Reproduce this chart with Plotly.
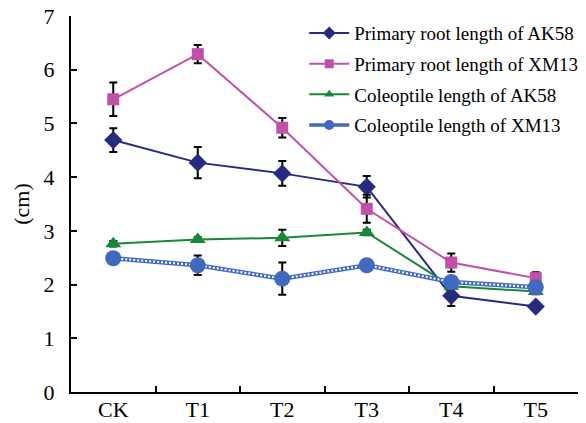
import plotly.graph_objects as go

# Treatments
categories = ["CK", "T1", "T2", "T3", "T4", "T5"]

# Lengths (cm) and standard errors
root_ak58 = [4.69, 4.27, 4.07, 3.82, 1.79, 1.59]
root_ak58_err = [0.22, 0.29, 0.23, 0.20, 0.19, 0.04]

root_xm13 = [5.45, 6.29, 4.92, 3.41, 2.41, 2.12]
root_xm13_err = [0.31, 0.17, 0.18, 0.26, 0.17, 0.11]

cole_ak58 = [2.76, 2.84, 2.87, 2.97, 1.97, 1.87]
cole_ak58_err = [0.05, 0.04, 0.15, 0.05, 0.05, 0.05]

cole_xm13 = [2.49, 2.36, 2.11, 2.36, 2.05, 1.95]
cole_xm13_err = [0.05, 0.18, 0.30, 0.05, 0.05, 0.05]

series_names = [
    "Primary root length of AK58",
    "Primary root length of XM13",
    "Coleoptile length of AK58",
    "Coleoptile length of XM13",
]

NAVY = "#262B80"
MAGENTA = "#C050A8"
GREEN = "#17873A"
BLUE = "#4169C0"
FONT = "Liberation Serif"


def err(values):
    return dict(type="data", array=values, color="black", thickness=2, width=4)


fig = go.Figure()

fig.add_trace(go.Scatter(
    x=categories, y=root_ak58, error_y=err(root_ak58_err),
    mode="lines+markers", name=series_names[0],
    line=dict(color=NAVY, width=2),
    marker=dict(symbol="diamond", size=14, color=NAVY),
    showlegend=False,
))
fig.add_trace(go.Scatter(
    x=categories, y=root_xm13, error_y=err(root_xm13_err),
    mode="lines+markers", name=series_names[1],
    line=dict(color=MAGENTA, width=2),
    marker=dict(symbol="square", size=12, color=MAGENTA),
    showlegend=False,
))
fig.add_trace(go.Scatter(
    x=categories, y=cole_ak58, error_y=err(cole_ak58_err),
    mode="lines+markers", name=series_names[2],
    line=dict(color=GREEN, width=2),
    marker=dict(symbol="triangle-up", size=14, color=GREEN),
    showlegend=False,
))
# Chain-style line: blue band, white dots on top, then the circle markers
fig.add_trace(go.Scatter(
    x=categories, y=cole_xm13, error_y=err(cole_xm13_err),
    mode="lines", name=series_names[3],
    line=dict(color=BLUE, width=4.5),
    showlegend=False,
))
fig.add_trace(go.Scatter(
    x=categories, y=cole_xm13,
    mode="lines", line=dict(color="white", width=2, dash="2px,2px"),
    showlegend=False, hoverinfo="skip",
))
fig.add_trace(go.Scatter(
    x=categories, y=cole_xm13, name=series_names[3],
    mode="markers", marker=dict(symbol="circle", size=16, color=BLUE),
    showlegend=False,
))

# Legend entries with smaller key symbols
legend_styles = [
    (NAVY, "diamond", 10, 2),
    (MAGENTA, "square", 9, 2),
    (GREEN, "triangle-up", 9, 2),
    (BLUE, "circle", 10, 3.5),
]
for i, (name, (color, symbol, size, lw)) in enumerate(zip(series_names, legend_styles)):
    fig.add_trace(go.Scatter(
        x=[None], y=[None], mode="lines+markers", name=name,
        line=dict(color=color, width=lw),
        marker=dict(symbol=symbol, size=size, color=color),
        legendgroup=f"g{i}", hoverinfo="skip",
    ))

fig.update_layout(
    width=586, height=423,
    margin=dict(l=71, r=3, t=16, b=31),
    paper_bgcolor="white", plot_bgcolor="white",
    font=dict(family=FONT, size=22, color="black"),
    showlegend=True,
    legend=dict(
        x=0.46, y=1.005, xanchor="left", yanchor="top",
        font=dict(family=FONT, size=19, color="black"),
        bgcolor="rgba(0,0,0,0)", tracegroupgap=3,
        itemwidth=40,
    ),
    xaxis=dict(
        type="category", range=[-0.5, 5.5], automargin=False,
        showline=True, linecolor="black", linewidth=2,
        ticks="inside", ticklen=6, tickwidth=2, tickcolor="black",
        tickson="boundaries", showgrid=False, zeroline=False,
        tickfont=dict(family=FONT, size=22),
        ticklabelstandoff=-3,
    ),
    yaxis=dict(
        range=[0, 7], dtick=1, automargin=False,
        showline=True, linecolor="black", linewidth=2,
        ticks="inside", ticklen=6, tickwidth=2, tickcolor="black",
        showgrid=False, zeroline=False,
        tickfont=dict(family=FONT, size=22),
        ticklabelstandoff=10,
        title=dict(text="(cm)", font=dict(family=FONT, size=22), standoff=8),
    ),
)

fig.write_html("out.html")
